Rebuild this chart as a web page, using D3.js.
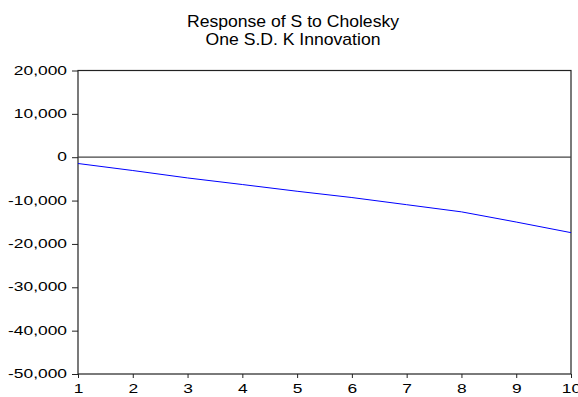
<!DOCTYPE html>
<meta charset="utf-8">
<style>
body { margin: 0; background: #fff; }
text { font-family: "Liberation Sans", Arial, sans-serif; fill: #000; }
</style>
<svg width="578" height="397"></svg>
<script src="https://d3js.org/d3.v7.min.js"></script>
<script>

var periods = [1, 2, 3, 4, 5, 6, 7, 8, 9, 10];
var response = [-1450, -3070, -4780, -6300, -7850, -9300, -10950, -12600, -14950, -17400];
var yTicks = [20000, 10000, 0, -10000, -20000, -30000, -40000, -50000];
var titleLines = ["Response of S to Cholesky", "One S.D. K Innovation"];

var svg = d3.select("svg");

var plotLeft = 78, plotRight = 571, plotTop = 70.5, plotBottom = 374;

var x = d3.scaleLinear().domain([1, 10]).range([plotLeft, plotRight]);
var y = d3.scaleLinear().domain([-50000, 20000]).range([plotBottom, plotTop]);

var commas = d3.format(",");
function fmt(d) { return commas(d).replace("\u2212", "-"); }

// title
svg.selectAll(".title")
    .data(titleLines)
    .enter().append("text")
    .attr("class", "title")
    .attr("text-anchor", "middle")
    .attr("font-size", 16)
    .attr("transform", function(d, i) { return "translate(293," + (26.5 + i * 18.5) + ") scale(1.1,1)"; })
    .text(function(d) { return d; });

// y axis
var yAxis = svg.append("g")
    .attr("transform", "translate(" + plotLeft + ",0)")
    .call(d3.axisLeft(y).tickValues(yTicks).tickFormat(fmt).tickSize(6).tickSizeOuter(0));
yAxis.select(".domain").remove();
yAxis.selectAll("line").attr("stroke", "#222");
yAxis.selectAll("text")
    .attr("x", null)
    .attr("dy", null)
    .attr("font-size", 12)
    .attr("transform", "translate(-11,3.5) scale(1.45,1)");

// x axis
var xAxis = svg.append("g")
    .attr("transform", "translate(0," + plotBottom + ")")
    .call(d3.axisBottom(x).tickValues(periods).tickFormat(d3.format("d")).tickSize(4).tickSizeOuter(0));
xAxis.select(".domain").remove();
xAxis.selectAll("line").attr("stroke", "#222");
xAxis.selectAll("text")
    .attr("y", null)
    .attr("dy", null)
    .attr("font-size", 12)
    .attr("transform", "translate(0,19) scale(1.45,1)");

// frame
svg.append("rect")
    .attr("x", plotLeft).attr("y", plotTop)
    .attr("width", plotRight - plotLeft).attr("height", plotBottom - plotTop)
    .attr("fill", "none")
    .attr("stroke", "#222")
    .attr("stroke-width", 1.2);

// zero line
svg.append("line")
    .attr("x1", plotLeft).attr("x2", plotRight)
    .attr("y1", y(0)).attr("y2", y(0))
    .attr("stroke", "#444")
    .attr("stroke-width", 1.2);

// response line
var line = d3.line()
    .x(function(d, i) { return x(periods[i]); })
    .y(function(d) { return y(d); });

svg.append("path")
    .datum(response)
    .attr("fill", "none")
    .attr("stroke", "#0000ff")
    .attr("stroke-width", 1)
    .attr("d", line);

</script>
